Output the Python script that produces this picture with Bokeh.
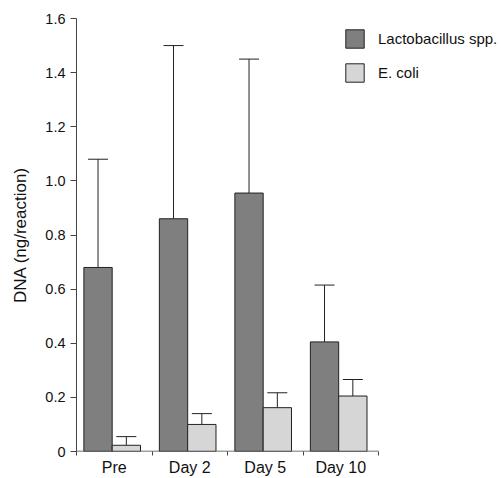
from bokeh.plotting import figure
from bokeh.models import (ColumnDataSource, Range1d, FixedTicker, Legend, LegendItem,
                          Whisker, TeeHead)
from bokeh.embed import file_html
from bokeh.resources import INLINE

categories = ["Pre", "Day 2", "Day 5", "Day 10"]
lacto = [0.68, 0.86, 0.955, 0.405]
lacto_err = [1.08, 1.50, 1.45, 0.615]
ecoli = [0.023, 0.10, 0.162, 0.205]
ecoli_err = [0.055, 0.14, 0.217, 0.266]
y_ticks = [0, 0.2, 0.4, 0.6, 0.8, 1.0, 1.2, 1.4, 1.6]
y_tick_labels = ["0", "0.2", "0.4", "0.6", "0.8", "1.0", "1.2", "1.4", "1.6"]

FONT = "Liberation Sans"
n = len(categories)
off_l, off_e, bw = 0.285, 0.66, 0.375

# frame spans 76..501 px; categories occupy 76..378 px
frame_px, cat_px = 425, 302
x_end = n * frame_px / cat_px

src_l = ColumnDataSource(dict(x=[i + off_l for i in range(n)], top=lacto, err=lacto_err))
src_e = ColumnDataSource(dict(x=[i + off_e for i in range(n)], top=ecoli, err=ecoli_err))

p = figure(width=501, height=478, x_range=Range1d(0, x_end), y_range=Range1d(0, 1.6),
           output_backend="svg", toolbar_location=None,
           min_border_left=76, min_border_right=0, min_border_top=18, min_border_bottom=26)
p.outline_line_color = None
p.xgrid.visible = False
p.ygrid.visible = False

for src in (src_l, src_e):
    w = Whisker(base="x", lower="top", upper="err", source=src, dimension="height",
                line_color="#222222", line_width=1,
                upper_head=TeeHead(size=20, line_color="#222222", line_width=1),
                lower_head=None)
    p.add_layout(w)

r1 = p.vbar(x="x", top="top", width=bw, source=src_l, fill_color="#7f7f7f",
            line_color="#222222", line_width=1)
r2 = p.vbar(x="x", top="top", width=bw, source=src_e, fill_color="#d6d6d6",
            line_color="#222222", line_width=1)

# x axis baseline only across the categories
p.segment(x0=[0], y0=[0], x1=[n], y1=[0], line_color="#444444", line_width=1.5)

xa = p.xaxis[0]
xa.ticker = FixedTicker(ticks=[i + 0.5 for i in range(n)], minor_ticks=list(range(n + 1)))
xa.major_label_overrides = {i + 0.5: c for i, c in enumerate(categories)}
xa.major_tick_in = 0
xa.major_tick_out = 0
xa.minor_tick_in = 0
xa.minor_tick_out = 4
xa.minor_tick_line_color = "#444444"
xa.axis_line_color = None
xa.major_label_text_font = FONT
xa.major_label_text_font_size = "16px"
xa.major_label_text_color = "#111111"
xa.major_label_standoff = 3

ya = p.yaxis[0]
ya.ticker = FixedTicker(ticks=y_ticks)
ya.major_label_overrides = {t: l for t, l in zip(y_ticks, y_tick_labels)}
ya.major_tick_in = 0
ya.major_tick_out = 6
ya.minor_tick_line_color = None
ya.axis_line_color = "#444444"
ya.major_tick_line_color = "#444444"
ya.major_label_text_font = FONT
ya.major_label_text_font_size = "14.5px"
ya.major_label_text_color = "#111111"
ya.major_label_standoff = 5
ya.axis_label = "DNA (ng/reaction)"
ya.axis_label_text_font = FONT
ya.axis_label_text_font_size = "17px"
ya.axis_label_text_font_style = "normal"
ya.axis_label_text_color = "#111111"
ya.axis_label_standoff = 12

legend = Legend(items=[LegendItem(label="Lactobacillus spp.", renderers=[r1]),
                       LegendItem(label="E. coli", renderers=[r2])],
                location=(267, 367), glyph_width=23, glyph_height=23,
                label_text_font=FONT, label_text_font_size="15px",
                label_text_color="#111111", label_standoff=12, spacing=11,
                padding=0, margin=0, border_line_color=None, background_fill_alpha=0)
p.add_layout(legend)

open("out.html", "w").write(file_html(p, INLINE))
